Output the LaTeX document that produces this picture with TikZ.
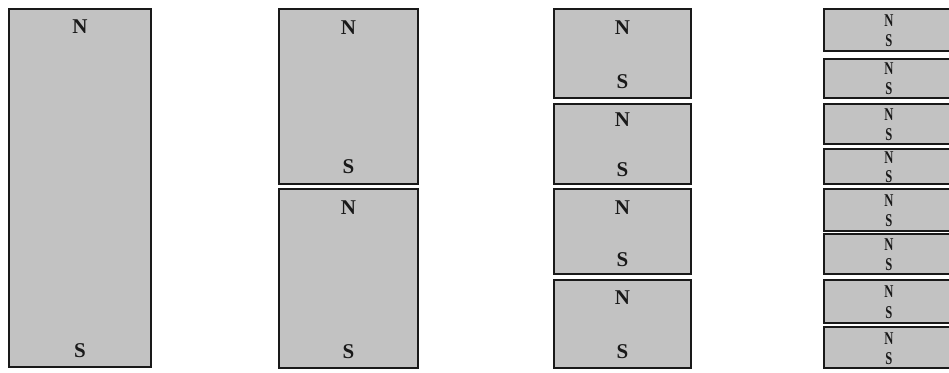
\documentclass[tikz,border=0pt]{standalone}
\usepackage{fontspec}
\setmainfont{Liberation Serif}
\usepackage{tikz}
\usetikzlibrary{positioning}

\begin{document}
\begin{tikzpicture}[
    x=1pt, y=-1pt,
    magnet/.style={
        draw=black!90,
        line width=1.7pt,
        fill=black!24,
        inner sep=0pt,
        anchor=north west
    },
    pole/.style={
        inner sep=0pt,
        text=black!90,
        font=\fontsize{21}{21}\selectfont\bfseries
    },
    smallpole/.style={
        inner sep=0pt,
        xscale=0.7,
        text=black!90,
        font=\fontsize{18}{18}\selectfont\bfseries
    }
]
\useasboundingbox (0,0) rectangle (949,372);
\clip (0,0) rectangle (949,372);

% one long magnet
\node[magnet, minimum width=142pt, minimum height=358pt] (a1) at (8,8) {};
\node[pole] (a1n) at ([yshift=-19pt]a1.north) {N};
\node[pole] (a1s) at ([yshift=17pt]a1.south) {S};

% cut in two
\node[magnet, minimum width=139pt, minimum height=175pt] (b1) at (278,8) {};
\node[magnet, minimum width=139pt, minimum height=179pt] (b2) at (278,188) {};
\node[pole] (b1n) at ([yshift=-20pt]b1.north) {N};
\node[pole] (b1s) at ([yshift=18pt]b1.south) {S};
\node[pole] (b2n) at ([yshift=-20pt]b2.north) {N};
\node[pole] (b2s) at ([yshift=17pt]b2.south) {S};

% cut in four
\node[magnet, minimum width=137pt, minimum height=89pt] (c1) at (553,8) {};
\node[magnet, minimum width=137pt, minimum height=80pt] (c2) at (553,103) {};
\node[magnet, minimum width=137pt, minimum height=85pt] (c3) at (553,188) {};
\node[magnet, minimum width=137pt, minimum height=88pt] (c4) at (553,279) {};
\node[pole] (c1n) at ([yshift=-20pt]c1.north) {N};
\node[pole] (c1s) at ([yshift=17pt]c1.south) {S};
\node[pole] (c2n) at ([yshift=-17pt]c2.north) {N};
\node[pole] (c2s) at ([yshift=15pt]c2.south) {S};
\node[pole] (c3n) at ([yshift=-20pt]c3.north) {N};
\node[pole] (c3s) at ([yshift=15pt]c3.south) {S};
\node[pole] (c4n) at ([yshift=-19pt]c4.north) {N};
\node[pole] (c4s) at ([yshift=17pt]c4.south) {S};

% cut in eight
\node[magnet, minimum width=132pt, minimum height=42pt] (d1) at (823,8) {};
\node[magnet, minimum width=132pt, minimum height=39pt] (d2) at (823,58) {};
\node[magnet, minimum width=132pt, minimum height=40pt] (d3) at (823,103) {};
\node[magnet, minimum width=132pt, minimum height=35pt] (d4) at (823,148) {};
\node[magnet, minimum width=132pt, minimum height=42pt] (d5) at (823,188) {};
\node[magnet, minimum width=132pt, minimum height=40pt] (d6) at (823,233) {};
\node[magnet, minimum width=132pt, minimum height=43pt] (d7) at (823,279) {};
\node[magnet, minimum width=132pt, minimum height=41pt] (d8) at (823,326) {};
\node[smallpole] (d1n) at ([xshift=-1pt,yshift=-13pt]d1.north) {N};
\node[smallpole] (d1s) at ([xshift=-1pt,yshift=11pt]d1.south) {S};
\node[smallpole] (d2n) at ([xshift=-1pt,yshift=-11pt]d2.north) {N};
\node[smallpole] (d2s) at ([xshift=-1pt,yshift=10pt]d2.south) {S};
\node[smallpole] (d3n) at ([xshift=-1pt,yshift=-12pt]d3.north) {N};
\node[smallpole] (d3s) at ([xshift=-1pt,yshift=10pt]d3.south) {S};
\node[smallpole] (d4n) at ([xshift=-1pt,yshift=-10pt]d4.north) {N};
\node[smallpole] (d4s) at ([xshift=-1pt,yshift=8pt]d4.south) {S};
\node[smallpole] (d5n) at ([xshift=-1pt,yshift=-13pt]d5.north) {N};
\node[smallpole] (d5s) at ([xshift=-1pt,yshift=11pt]d5.south) {S};
\node[smallpole] (d6n) at ([xshift=-1pt,yshift=-12pt]d6.north) {N};
\node[smallpole] (d6s) at ([xshift=-1pt,yshift=10pt]d6.south) {S};
\node[smallpole] (d7n) at ([xshift=-1pt,yshift=-13pt]d7.north) {N};
\node[smallpole] (d7s) at ([xshift=-1pt,yshift=11pt]d7.south) {S};
\node[smallpole] (d8n) at ([xshift=-1pt,yshift=-13pt]d8.north) {N};
\node[smallpole] (d8s) at ([xshift=-1pt,yshift=10pt]d8.south) {S};

\end{tikzpicture}
\end{document}
